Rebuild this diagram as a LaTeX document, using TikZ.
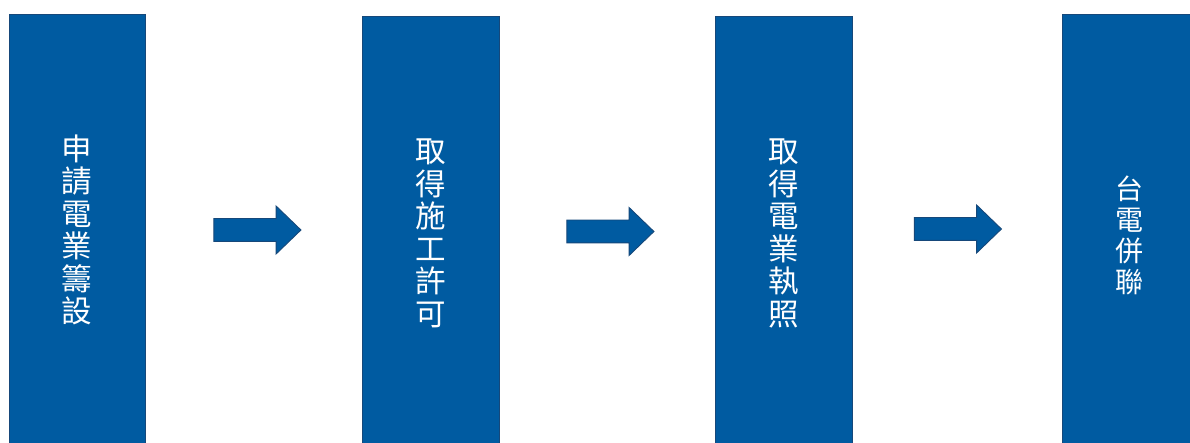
\documentclass[tikz,border=0pt]{standalone}
\usepackage{fontspec}
\newfontfamily\cjk{Noto Sans CJK TC}
\usetikzlibrary{shapes.arrows}
\definecolor{boxblue}{RGB}{0,91,161}
\definecolor{edgeblue}{RGB}{22,72,122}
\tikzset{
  stagebox/.style={draw=edgeblue, line width=0.9pt, fill=boxblue},
  stagetext/.style={text=white, align=center, inner sep=0pt, font=\cjk\fontsize{30.5}{32.5}\selectfont},
  blockarrow/.style={single arrow, draw=edgeblue, line width=0.9pt, fill=boxblue,
    minimum height=87pt, minimum width=47pt, inner xsep=0pt, inner ysep=11pt,
    single arrow head extend=12.5pt, single arrow tip angle=88},
}
\begin{document}
\begin{tikzpicture}[x=1pt,y=-1pt]
\clip (0,0) rectangle (1190,443);
\fill[white] (0,0) rectangle (1190,443);
% boxes
\draw[stagebox] (9,14) rectangle (145,470);
\draw[stagebox] (362,16) rectangle (499,470);
\draw[stagebox] (715,16) rectangle (852,470);
\draw[stagebox] (1062,14) rectangle (1200,470);
% texts
\node[stagetext] (t1) at (77,230) {申\\請\\電\\業\\籌\\設};
\node[stagetext] (t2) at (430.5,233.5) {取\\得\\施\\工\\許\\可};
\node[stagetext] (t3) at (783.5,233.5) {取\\得\\電\\業\\執\\照};
\node[stagetext, font=\cjk\fontsize{28}{31}\selectfont] (t4) at (1129,235) {台\\電\\併\\聯};
% arrows
\node[blockarrow] (a1) at (251.5,230) {};
\node[blockarrow] (a2) at (604.5,231.5) {};
\node[blockarrow] (a3) at (952,229) {};
\end{tikzpicture}
\end{document}
